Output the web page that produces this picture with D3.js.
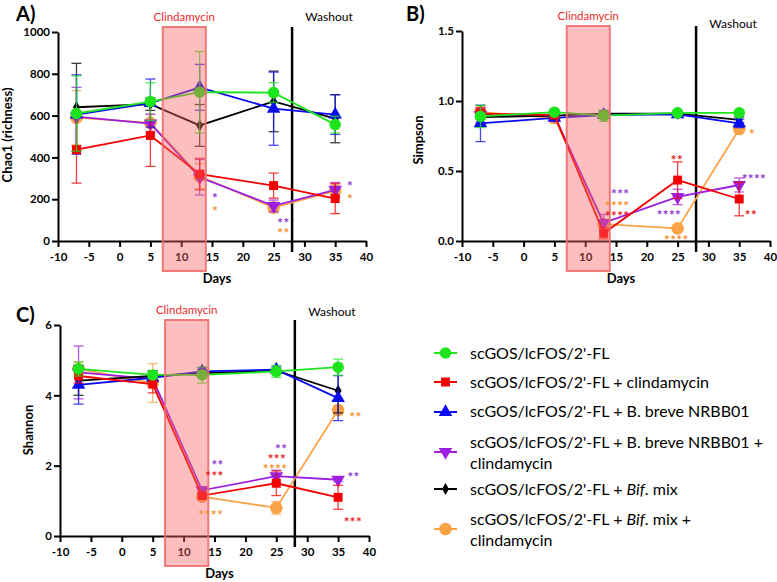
<!DOCTYPE html>
<html>
<head>
<meta charset="utf-8">
<title>alpha diversity</title>
<script src="https://cdn.jsdelivr.net/npm/d3@7"></script>
<style>
body { margin: 0; background: #fff; }
text { font-family: Lato, "Open Sans", sans-serif; }
.axis path, .axis line { stroke: #000; stroke-width: 2; }
.axis text { font-size: 11.5px; font-weight: bold; fill: #000; }
</style>
</head>
<body>
<script>
// sampling days
var days = [-7, 5, 13, 25, 35];

var groups = ["scGOS/lcFOS/2'-FL", "scGOS/lcFOS/2'-FL + clindamycin", "scGOS/lcFOS/2'-FL + B. breve NRBB01",
  "scGOS/lcFOS/2'-FL + B. breve NRBB01 + clindamycin", "scGOS/lcFOS/2'-FL + Bif. mix", "scGOS/lcFOS/2'-FL + Bif. mix + clindamycin"];
var colors = ["#1de51d", "#f50000", "#0a0af0", "#9d1fe0", "#000000", "#f9a346"];
var starColors = ["#1de51d", "#e81c1c", "#0a0af0", "#8f38cf", "#000000", "#f3912f"];

var xTicks = [-10, -5, 0, 5, 10, 15, 20, 25, 30, 35, 40];
var chao1Ticks = [0, 200, 400, 600, 800, 1000];
var simpsonTicks = [0, 0.5, 1.0, 1.5];
var shannonTicks = [0, 2, 4, 6];

// A) Chao1 mean / sd, rows in legend order
var chao1Mean = [
  [610, 667, 712, 710, 557],
  [437, 505, 320, 265, 203],
  [605, 660, 735, 633, 605],
  [595, 562, 305, 168, 245],
  [640, 655, 553, 668, 585],
  [590, 565, 310, 160, 240]
];
var chao1Sd = [
  [180, 90, 195, 47, 40],
  [160, 148, 75, 60, 72],
  [190, 115, 110, 175, 95],
  [140, 45, 85, 28, 35],
  [210, 30, 100, 145, 115],
  [130, 40, 60, 25, 30]
];
// B) Simpson
var simpsonMean = [
  [0.89, 0.92, 0.895, 0.915, 0.915],
  [0.91, 0.90, 0.055, 0.435, 0.30],
  [0.84, 0.88, 0.90, 0.905, 0.84],
  [0.90, 0.895, 0.13, 0.315, 0.40],
  [0.885, 0.895, 0.91, 0.91, 0.865],
  [0.92, 0.88, 0.12, 0.09, 0.80]
];
var simpsonSd = [
  [0.08, 0.02, 0.04, 0.01, 0.01],
  [0.04, 0.02, 0.04, 0.13, 0.12],
  [0.13, 0.02, 0.02, 0.02, 0.03],
  [0.05, 0.02, 0.06, 0.055, 0.05],
  [0.05, 0.02, 0.02, 0.01, 0.02],
  [0.04, 0.04, 0.03, 0.02, 0.02]
];
// C) Shannon
var shannonMean = [
  [4.75, 4.58, 4.58, 4.68, 4.80],
  [4.55, 4.32, 1.15, 1.50, 1.10],
  [4.30, 4.50, 4.68, 4.73, 3.92],
  [4.65, 4.47, 1.30, 1.70, 1.60],
  [4.42, 4.55, 4.63, 4.70, 4.13],
  [4.75, 4.35, 1.12, 0.80, 3.58]
];
var shannonSd = [
  [0.20, 0.10, 0.23, 0.17, 0.23],
  [0.20, 0.25, 0.08, 0.35, 0.34],
  [0.55, 0.05, 0.10, 0.08, 0.64],
  [0.75, 0.10, 0.10, 0.17, 0.05],
  [0.42, 0.15, 0.10, 0.05, 0.63],
  [0.20, 0.55, 0.05, 0.18, 0.13]
];

// significance marks: [day, value, label, group]
var chao1Stars = [[15.5, 220, "*", 3], [15.5, 157, "*", 5], [26.6, 100, "**", 3], [26.6, 52, "**", 5], [37.4, 277, "*", 3], [37.4, 215, "*", 5]];
var simpsonStars = [[15.7, 0.355, "***", 3], [15.2, 0.27, "****", 5], [15.2, 0.198, "****", 1],
  [24.9, 0.598, "**", 1], [23.6, 0.205, "****", 3], [24.8, 0.026, "****", 5],
  [37.1, 0.79, "*", 5], [37.4, 0.462, "****", 3], [36.9, 0.205, "**", 1]];
var shannonStars = [[15.5, 2.10, "**", 3], [15.0, 1.79, "***", 1], [14.4, 0.68, "****", 5],
  [25.8, 2.56, "**", 3], [25.1, 2.27, "***", 1], [24.8, 1.99, "****", 5],
  [37.8, 3.47, "**", 5], [37.5, 1.76, "**", 3], [37.4, 0.48, "***", 1]];

var shapes = [d3.symbolCircle, d3.symbolSquare, d3.symbolTriangle, d3.symbolTriangle, d3.symbolDiamond, d3.symbolCircle];
var sizes = [105, 80, 80, 80, 42, 125];
var drawOrder = [5, 3, 4, 2, 1, 0];

var svg = d3.select("body").append("svg").attr("width", 777).attr("height", 582);

function marker(sel, i) {
  sel.attr("d", d3.symbol().type(shapes[i]).size(sizes[i])).attr("fill", colors[i]);
  return sel;
}

function panel(p) {
  var x = d3.scaleLinear().domain([-10, 40]).range([p.left, p.right]);
  var y = d3.scaleLinear().domain([0, p.max]).range([p.bottom, p.top]);
  var g = svg.append("g");

  g.append("g").attr("class", "axis").attr("transform", "translate(0," + p.bottom + ")")
    .call(d3.axisBottom(x).tickValues(xTicks).tickFormat(function(d) { return String(d); })
      .tickSize(6).tickSizeOuter(0).tickPadding(6));
  g.append("g").attr("class", "axis").attr("transform", "translate(" + p.left + ",0)")
    .call(d3.axisLeft(y).tickValues(p.ticks).tickFormat(p.fmt).tickSize(6).tickSizeOuter(0).tickPadding(2));

  // washout line
  g.append("line").attr("x1", x(28)).attr("x2", x(28)).attr("y1", y(p.max) - 5).attr("y2", p.bottom + 11)
    .attr("stroke", "#000").attr("stroke-width", 2.5);
  g.append("text").attr("x", x(34)).attr("y", y(p.max) + p.washDy).attr("text-anchor", "middle")
    .attr("font-size", 12).text("Washout");

  drawOrder.forEach(function(i) {
    var m = p.mean[i], s = p.sd[i], c = colors[i];
    var eb = g.append("g").attr("stroke", c).attr("stroke-width", 1.3).attr("opacity", 0.75);
    days.forEach(function(d, j) {
      var lo = Math.max(0, m[j] - s[j]), hi = m[j] + s[j];
      eb.append("line").attr("x1", x(d)).attr("x2", x(d)).attr("y1", y(lo)).attr("y2", y(hi));
      eb.append("line").attr("x1", x(d) - 5).attr("x2", x(d) + 5).attr("y1", y(lo)).attr("y2", y(lo));
      eb.append("line").attr("x1", x(d) - 5).attr("x2", x(d) + 5).attr("y1", y(hi)).attr("y2", y(hi));
    });
    g.append("path").datum(m).attr("fill", "none").attr("stroke", c).attr("stroke-width", 1.8)
      .attr("d", d3.line().x(function(v, j) { return x(days[j]); }).y(function(v) { return y(v); }));
    g.selectAll(null).data(m).enter().append("path")
      .call(marker, i)
      .attr("transform", function(v, j) {
        return "translate(" + x(days[j]) + "," + y(v) + ")" + (i === 3 ? " rotate(180)" : "");
      });
  });

  // clindamycin window
  g.append("rect").attr("x", x(7)).attr("y", y(p.max) - 5).attr("width", x(14) - x(7))
    .attr("height", p.bottom + 30 - (y(p.max) - 5))
    .attr("fill", "rgba(248,100,100,0.42)").attr("stroke", "rgba(240,110,110,0.9)").attr("stroke-width", 2);
  g.append("text").attr("x", x(10.5)).attr("y", y(p.max) - 11).attr("text-anchor", "middle")
    .attr("font-size", 11.5).attr("fill", "#ec2a2a").text("Clindamycin");

  p.stars.forEach(function(s) {
    g.append("text").attr("x", x(s[0])).attr("y", y(s[1])).attr("dy", "0.6em").attr("text-anchor", "middle")
      .attr("font-size", 13.5).attr("font-weight", "bold").attr("letter-spacing", 0.4)
      .attr("fill", starColors[s[3]]).text(s[2]);
  });

  g.append("text").attr("x", (p.left + p.right) / 2 + 5).attr("y", p.bottom + 42).attr("text-anchor", "middle")
    .attr("font-size", 13).attr("font-weight", "bold").text("Days");
  g.append("text").attr("transform", "translate(" + p.ylabX + "," + p.ylabY + ") rotate(-90)")
    .attr("text-anchor", "middle").attr("font-size", 13).attr("font-weight", "bold").text(p.ylab);
  g.append("text").attr("x", p.letterX).attr("y", p.letterY).attr("font-size", 20).attr("font-weight", "bold").text(p.letter);
}

panel({left: 58, right: 366, top: 32, bottom: 241, max: 1000, ticks: chao1Ticks, fmt: d3.format("d"),
  mean: chao1Mean, sd: chao1Sd, stars: chao1Stars, ylab: "Chao1 (richness)", ylabX: 12, ylabY: 135,
  letter: "A)", letterX: 16, letterY: 21, washDy: -11});
panel({left: 462, right: 770, top: 31, bottom: 241, max: 1.5, ticks: simpsonTicks, fmt: d3.format(".1f"),
  mean: simpsonMean, sd: simpsonSd, stars: simpsonStars, ylab: "Simpson", ylabX: 423, ylabY: 140,
  letter: "B)", letterX: 406, letterY: 21, washDy: -3});
panel({left: 60, right: 369, top: 325, bottom: 536, max: 6, ticks: shannonTicks, fmt: d3.format("d"),
  mean: shannonMean, sd: shannonSd, stars: shannonStars, ylab: "Shannon", ylabX: 33, ylabY: 430,
  letter: "C)", letterX: 16, letterY: 322, washDy: -9});

// legend
var legendRows = [
  {y: 353, lines: [[["scGOS/lcFOS/2'-FL", false]]], base: 359},
  {y: 382, lines: [[["scGOS/lcFOS/2'-FL + clindamycin", false]]], base: 388},
  {y: 412, lines: [[["scGOS/lcFOS/2'-FL + B. breve NRBB01", false]]], base: 417},
  {y: 452, lines: [[["scGOS/lcFOS/2'-FL + B. breve NRBB01 +", false]], [["clindamycin", false]]], base: 448},
  {y: 489, lines: [[["scGOS/lcFOS/2'-FL + ", false], ["Bif", true], [". mix", false]]], base: 495},
  {y: 529, lines: [[["scGOS/lcFOS/2'-FL + ", false], ["Bif", true], [". mix +", false]], [["clindamycin", false]]], base: 525}
];
var leg = svg.append("g");
legendRows.forEach(function(r, i) {
  leg.append("line").attr("x1", 434).attr("x2", 457).attr("y1", r.y).attr("y2", r.y)
    .attr("stroke", colors[i]).attr("stroke-width", 2);
  leg.append("path").call(marker, i)
    .attr("transform", "translate(445.5," + r.y + ")" + (i === 3 ? " rotate(180)" : ""));
  r.lines.forEach(function(parts, k) {
    var t = leg.append("text").attr("x", 470).attr("y", r.base + k * 21).attr("font-size", 16);
    parts.forEach(function(pt) {
      t.append("tspan").attr("font-style", pt[1] ? "italic" : null).text(pt[0]);
    });
  });
});
</script>
</body>
</html>
